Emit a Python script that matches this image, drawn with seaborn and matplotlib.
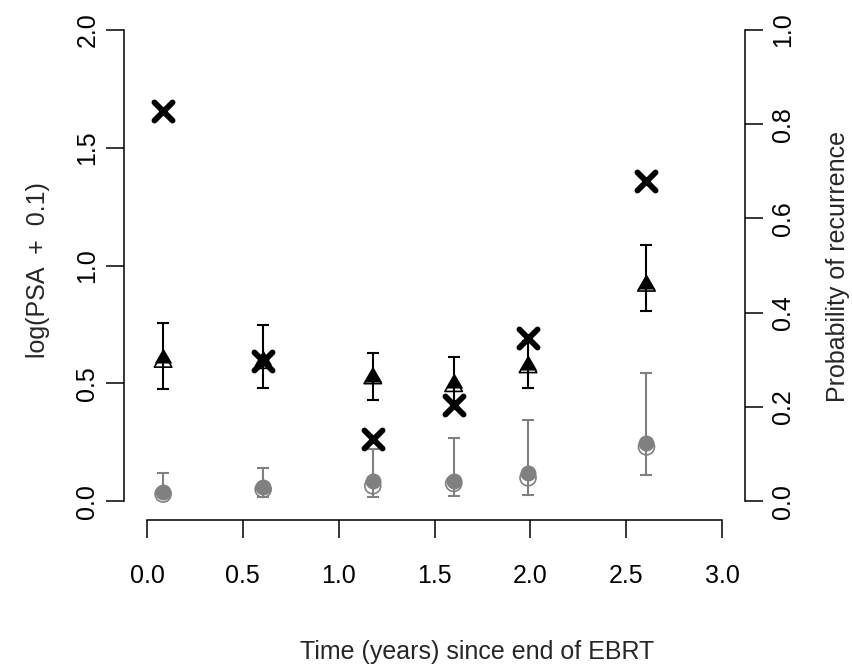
import numpy as np
import pandas as pd
import matplotlib
matplotlib.use("Agg")
import matplotlib.pyplot as plt
import seaborn as sns
from matplotlib.path import Path

# ---- data ----
time = [0.084, 0.606, 1.178, 1.60, 1.988, 2.606]
tri_filled = [0.608, 0.600, 0.528, 0.503, 0.576, 0.920]
tri_open = [0.590, 0.585, 0.520, 0.487, 0.567, 0.913]
tri_lo = [0.475, 0.480, 0.428, 0.425, 0.482, 0.806]
tri_hi = [0.754, 0.749, 0.630, 0.613, 0.680, 1.085]
grey_filled = [0.039, 0.058, 0.086, 0.086, 0.120, 0.247]
grey_open = [0.030, 0.050, 0.065, 0.075, 0.099, 0.230]
grey_lo = [0.020, 0.018, 0.018, 0.022, 0.028, 0.113]
grey_hi = [0.119, 0.140, 0.220, 0.267, 0.345, 0.542]
prob_recur = [0.828, 0.297, 0.131, 0.205, 0.346, 0.679]

x_ticks = [0.0, 0.5, 1.0, 1.5, 2.0, 2.5, 3.0]
y_ticks = [0.0, 0.5, 1.0, 1.5, 2.0]
p_ticks = [0.0, 0.2, 0.4, 0.6, 0.8, 1.0]

df = pd.DataFrame(dict(time=time, tri_filled=tri_filled, tri_open=tri_open,
                       grey_filled=grey_filled, grey_open=grey_open,
                       prob=prob_recur))

sns.set_style("white")
plt.rcParams['font.family'] = ['Liberation Sans', 'DejaVu Sans']
FS = 18
GREY = '#808080'

fig = plt.figure(figsize=(8.52, 6.69), dpi=100)
W, H = 852, 669
left, right, bottom, top = 124, 745, 520, 11
ax = fig.add_axes([left / W, 1 - bottom / H, (right - left) / W, (bottom - top) / H])
ax.set_xlim(-0.12, 3.12)
ax.set_ylim(-0.08, 2.08)

# equilateral triangle like R's pch 2 / 17
tri = Path([(0, 1), (-0.866, -0.5), (0.866, -0.5), (0, 1)],
           [Path.MOVETO, Path.LINETO, Path.LINETO, Path.CLOSEPOLY])

# grey error bars and circles
ax.errorbar(time, grey_filled,
            yerr=[np.array(grey_filled) - np.array(grey_lo), np.array(grey_hi) - np.array(grey_filled)],
            fmt='none', ecolor=GREY, elinewidth=1.5, capsize=4.3, capthick=1.5, zorder=2)
sns.scatterplot(data=df, x='time', y='grey_open', ax=ax, marker='o', s=132,
                facecolor='none', edgecolor=GREY, linewidth=1.2, zorder=3)
sns.scatterplot(data=df, x='time', y='grey_filled', ax=ax, marker='o', s=132,
                color=GREY, linewidth=0, zorder=4)

# black error bars and triangles
ax.errorbar(time, tri_filled,
            yerr=[np.array(tri_filled) - np.array(tri_lo), np.array(tri_hi) - np.array(tri_filled)],
            fmt='none', ecolor='black', elinewidth=1.5, capsize=4.3, capthick=1.5, zorder=2)
sns.scatterplot(data=df, x='time', y='tri_open', ax=ax, marker=tri, s=210,
                facecolor='none', edgecolor='black', linewidth=1.2, zorder=3)
sns.scatterplot(data=df, x='time', y='tri_filled', ax=ax, marker=tri, s=210,
                color='black', linewidth=0, zorder=4)

ax.set_xlabel('')
ax.set_ylabel('')
ax.set_xticks(x_ticks)
ax.set_xticklabels([f"{v:.1f}" for v in x_ticks])
ax.set_yticks(y_ticks)
ax.set_yticklabels([f"{v:.1f}" for v in y_ticks], rotation=90, va='center')

for s in ['top', 'right']:
    ax.spines[s].set_visible(False)
ax.spines['left'].set_bounds(0, 2)
ax.spines['bottom'].set_bounds(0, 3)
for s in ['left', 'bottom']:
    ax.spines[s].set_linewidth(1.1)
    ax.spines[s].set_color('black')
ax.tick_params(axis='x', direction='out', length=13, width=1.1, pad=18.5,
               labelsize=FS, bottom=True, colors='black')
ax.tick_params(axis='y', direction='out', length=13, width=1.1, pad=4.8,
               labelsize=FS, left=True, colors='black')

# right axis: probability of recurrence
ax2 = ax.twinx()
ax2.set_ylim(-0.04, 1.04)
sns.scatterplot(data=df, x='time', y='prob', ax=ax2, marker='x', s=170,
                color='black', linewidth=4.2, capstyle='round', zorder=5)
ax2.set_ylabel('')
ax2.set_yticks(p_ticks)
ax2.set_yticklabels([f"{v:.1f}" for v in p_ticks], rotation=90, va='center')
for s in ['top', 'left', 'bottom']:
    ax2.spines[s].set_visible(False)
ax2.spines['right'].set_bounds(0, 1)
ax2.spines['right'].set_linewidth(1.1)
ax2.spines['right'].set_color('black')
ax2.tick_params(axis='y', direction='out', length=13, width=1.1, pad=6,
                labelsize=FS, right=True, colors='black')
ax.grid(False)
ax2.grid(False)

fig.text(477 / W, 1 - 652 / H, 'Time (years) since end of EBRT', ha='center', va='center', fontsize=FS)
fig.text(38 / W, 1 - 270 / H, 'log(PSA  +  0.1)', ha='center', va='center', rotation=90, fontsize=FS)
fig.text(838 / W, 1 - 266 / H, 'Probability of recurrence', ha='center', va='center', rotation=90, fontsize=FS)

fig.savefig('out.png', dpi=100, facecolor='white')
